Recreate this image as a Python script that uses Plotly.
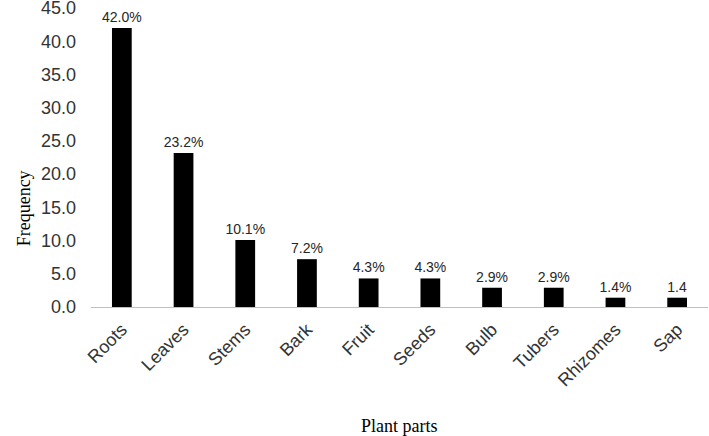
import plotly.graph_objects as go

parts = ["Roots", "Leaves", "Stems", "Bark", "Fruit", "Seeds", "Bulb", "Tubers", "Rhizomes", "Sap"]
freq = [42.0, 23.2, 10.1, 7.2, 4.3, 4.3, 2.9, 2.9, 1.4, 1.4]
labels = ["42.0%", "23.2%", "10.1%", "7.2%", "4.3%", "4.3%", "2.9%", "2.9%", "1.4%", "1.4"]
yticks = [0, 5, 10, 15, 20, 25, 30, 35, 40, 45]
ytick_text = [f"{v:.1f}" for v in yticks]

fig = go.Figure(go.Bar(
    x=parts, y=freq, text=labels, textposition="outside",
    constraintext="none",
    textfont=dict(family="Liberation Sans, Arial", size=14, color="#262626"),
    marker=dict(color="#000000", line=dict(width=0)),
    cliponaxis=False,
))

fig.update_layout(
    width=709, height=436,
    margin=dict(l=91, r=1, t=8, b=129),
    plot_bgcolor="white", paper_bgcolor="white",
    bargap=0.68,
    showlegend=False,
    font=dict(family="Liberation Sans, Arial", color="#333333"),
    xaxis=dict(
        tickangle=-45, tickfont=dict(size=18, color="#333333"),
        showline=True, linecolor="#bfbfbf", linewidth=1,
        showgrid=False, ticks="", automargin=False,
        ticklabelstandoff=4,
    ),
    yaxis=dict(
        range=[0, 45.02], tickvals=yticks, ticktext=ytick_text,
        tickfont=dict(size=18, color="#333333"),
        showgrid=False, zeroline=False, showline=False,
        ticklabelstandoff=14, automargin=False,
        ticklabeloverflow="allow",
    ),
    annotations=[
        dict(text="Frequency", xref="paper", yref="paper", x=-0.128, y=0.33,
             xanchor="left", yanchor="middle", textangle=-90, showarrow=False,
             font=dict(family="Liberation Serif, Times New Roman", size=18, color="#000000")),
        dict(text="Plant parts", xref="paper", yref="paper", x=0.5, y=-0.398,
             xanchor="center", yanchor="middle", showarrow=False,
             font=dict(family="Liberation Serif, Times New Roman", size=18, color="#000000")),
    ],
)

fig.write_html("out.html", config={"displayModeBar": False},
               post_script="document.body.style.margin='0';")
